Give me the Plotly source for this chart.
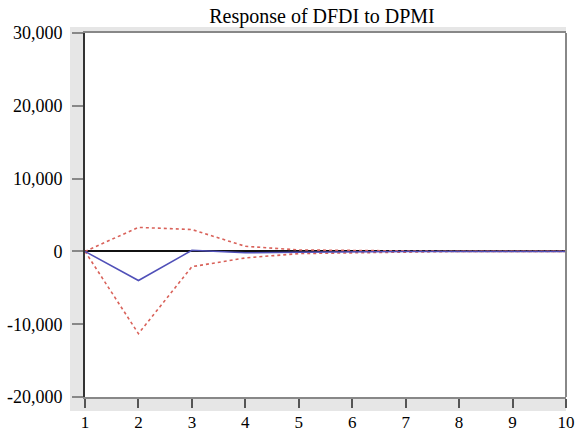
import plotly.graph_objects as go

periods = [1, 2, 3, 4, 5, 6, 7, 8, 9, 10]
response = [0, -4000, 150, -200, -100, 0, 0, 0, 0, 0]
upper = [0, 3300, 3000, 700, 200, 100, 50, 0, 0, 0]
lower = [0, -11300, -2100, -900, -300, -200, -50, 0, 0, 0]
y_ticks = [-20000, -10000, 0, 10000, 20000, 30000]
y_labels = ["-20,000", "-10,000", "0", "10,000", "20,000", "30,000"]

font = "Liberation Serif, Tinos, 'Times New Roman', Times, 'DejaVu Serif', serif"
red = "#d9625a"
blue = "#5050b8"

fig = go.Figure()
fig.add_trace(go.Scatter(x=periods, y=upper, mode="lines",
                         line=dict(color=red, width=1.6, dash="dot")))
fig.add_trace(go.Scatter(x=periods, y=lower, mode="lines",
                         line=dict(color=red, width=1.6, dash="dot")))
fig.add_trace(go.Scatter(x=periods, y=response, mode="lines",
                         line=dict(color=blue, width=1.5)))

W, H = 575, 434
ml, mr, mt, mb = 85, 9, 33, 37
pw, ph = W - ml - mr, H - mt - mb
left = -(ml - 70) / pw
bot = -(411 - (H - mb)) / ph
top = 1 + (mt - 27) / ph

shapes = [
    dict(type="rect", xref="paper", yref="paper", x0=left, x1=0, y0=bot, y1=top,
         fillcolor="#e6e6e6", line=dict(width=0), layer="below"),
    dict(type="rect", xref="paper", yref="paper", x0=left, x1=1, y0=bot, y1=0,
         fillcolor="#e6e6e6", line=dict(width=0), layer="below"),
    dict(type="rect", xref="paper", yref="paper", x0=left, x1=1, y0=1, y1=top,
         fillcolor="#e6e6e6", line=dict(width=0), layer="below"),
]

fig.update_layout(
    width=W, height=H,
    margin=dict(l=ml, r=mr, t=mt, b=mb, autoexpand=False),
    paper_bgcolor="white", plot_bgcolor="white",
    showlegend=False,
    shapes=shapes,
    title=dict(text="Response of DFDI to DPMI", x=(322 - ml) / pw, xref="paper",
               xanchor="center", y=1 - 16 / H, yanchor="middle",
               font=dict(family=font, size=20, color="black")),
    font=dict(family=font, size=18, color="black"),
)
fig.update_xaxes(range=[1, 10], tickvals=periods, ticktext=[str(p) for p in periods],
                 showgrid=False, zeroline=False, automargin=False,
                 showline=True, linecolor="#888888", linewidth=2, mirror=True,
                 ticks="outside", ticklen=9, tickcolor="#555555", tickwidth=2,
                 tickfont=dict(family=font, size=17, color="black"))
fig.update_yaxes(range=[-20000, 30000], tickvals=y_ticks, ticktext=y_labels,
                 showgrid=False, zeroline=True, zerolinecolor="#111111", zerolinewidth=2,
                 showline=True, linecolor="#333333", linewidth=2, automargin=False,
                 ticks="outside", ticklen=11, tickcolor="#888888", tickwidth=2,
                 ticklabelstandoff=6,
                 tickfont=dict(family=font, size=18, color="black"))
fig.add_shape(type="line", xref="paper", yref="paper", x0=1, x1=1, y0=0, y1=1,
              line=dict(color="#888888", width=2))

fig.write_html("out.html", config={"displayModeBar": False},
               post_script="document.body.style.margin='0';document.body.style.overflow='hidden';")
